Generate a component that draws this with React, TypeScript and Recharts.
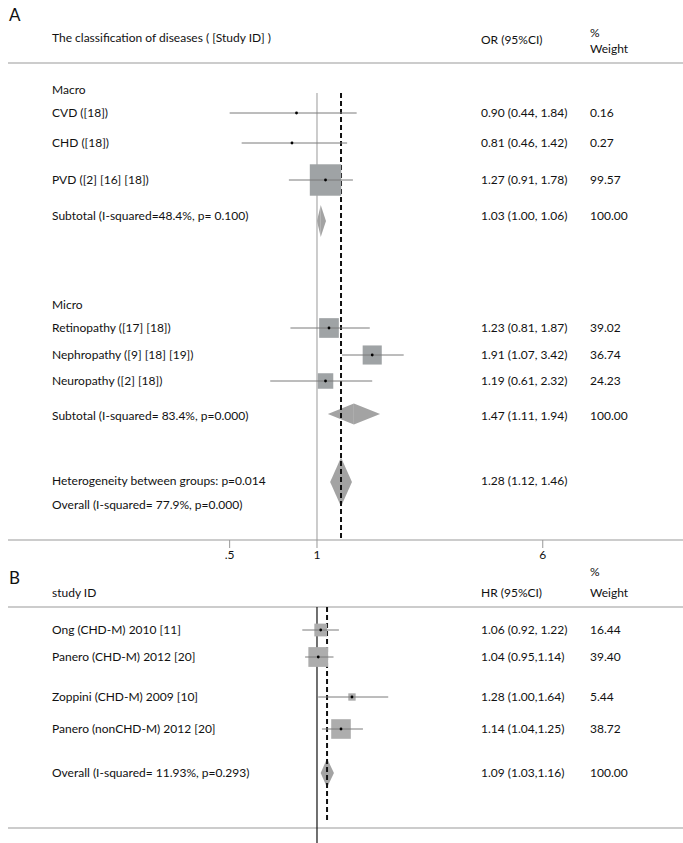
import { ReferenceArea, ReferenceLine, Scatter, ScatterChart, XAxis, YAxis } from 'recharts'

// panel A: rows of text
const labelsA = ['Macro', 'CVD ([18])', 'CHD ([18])', 'PVD ([2] [16] [18])', 'Subtotal (I-squared=48.4%, p= 0.100)', 'Micro', 'Retinopathy ([17] [18])', 'Nephropathy ([9] [18] [19])', 'Neuropathy ([2] [18])', 'Subtotal (I-squared= 83.4%, p=0.000)', 'Heterogeneity between groups: p=0.014', 'Overall (I-squared= 77.9%, p=0.000)']
const ciTextA = ['', '0.90 (0.44, 1.84)', '0.81 (0.46, 1.42)', '1.27 (0.91, 1.78)', '1.03 (1.00, 1.06)', '', '1.23 (0.81, 1.87)', '1.91 (1.07, 3.42)', '1.19 (0.61, 2.32)', '1.47 (1.11, 1.94)', '1.28 (1.12, 1.46)', '']
const weightTextA = ['', '0.16', '0.27', '99.57', '100.00', '', '39.02', '36.74', '24.23', '100.00', '', '']

// panel A: studies as drawn
const estA = [0.85, 0.82, 1.07, 1.10, 1.55, 1.07]
const lowA = [0.50, 0.55, 0.80, 0.81, 1.22, 0.69]
const highA = [1.37, 1.27, 1.33, 1.52, 1.99, 1.55]
const weightA = [0.16, 0.27, 99.57, 39.02, 36.74, 24.23]

// panel A: pooled diamonds (macro, micro, overall)
const poolLowA = [1.0, 1.09, 1.11]
const poolEstA = [1.03, 1.34, 1.21]
const poolHighA = [1.074, 1.65, 1.32]
const overallA = 1.21

// panel B
const labelsB = ['Ong (CHD-M) 2010 [11]', 'Panero (CHD-M) 2012 [20]', 'Zoppini (CHD-M) 2009 [10]', 'Panero (nonCHD-M) 2012 [20]', 'Overall (I-squared= 11.93%, p=0.293)']
const ciTextB = ['1.06 (0.92, 1.22)', '1.04 (0.95,1.14)', '1.28 (1.00,1.64)', '1.14 (1.04,1.25)', '1.09 (1.03,1.16)']
const weightTextB = ['16.44', '39.40', '5.44', '38.72', '100.00']
const estB = [1.03, 1.01, 1.32, 1.21]
const lowB = [0.89, 0.91, 1.01, 1.04]
const highB = [1.19, 1.14, 1.76, 1.44]
const weightB = [16.44, 39.4, 5.44, 38.72]
const poolLowB = 1.03
const poolEstB = 1.083
const poolHighB = 1.144

const xTicks = [0.5, 1, 6]

// layout (pixels)
const rowYA = [90, 113, 143, 180, 216, 305, 328, 355, 381, 416, 481, 505]
const studyRowA = [1, 2, 3, 6, 7, 8]
const poolYA = [221, 414, 482]
const poolHA = [32, 21, 49]
const rowYB = [630, 657, 697, 729, 773]
const poolHB = 29
const xDomain = [0.0861, 18.26]
const font = 'Lato, "Open Sans", sans-serif'
const colLabel = 52
const colCi = 481
const colWeight = 590
const ciStroke = '#7a7a7a'

const Box = (color: string) => (p: any) => {
  const s = 3.15 * Math.sqrt(p.payload.w)
  return <g>{s > 3 && <rect x={p.cx - s / 2} y={p.cy - s / 2} width={s} height={s} fill={color} />}</g>
}
const Dot = (p: any) => <circle cx={p.cx} cy={p.cy} r={1.4} fill="#000" />
const NoShape = () => <g />

const LeftHalf = (p: any) => (
  <polygon points={`${p.x},${p.y + p.height / 2} ${p.x + p.width},${p.y} ${p.x + p.width},${p.y + p.height}`} fill="#a3a3a3" />
)
const RightHalf = (p: any) => (
  <polygon points={`${p.x},${p.y} ${p.x + p.width},${p.y + p.height / 2} ${p.x},${p.y + p.height}`} fill="#a3a3a3" />
)

function Diamond(lo: number, est: number, hi: number, y: number, h: number, key: string) {
  return [
    <ReferenceArea key={key + 'l'} x1={lo} x2={est} y1={y - h / 2} y2={y + h / 2} shape={LeftHalf} ifOverflow="visible" />,
    <ReferenceArea key={key + 'r'} x1={est} x2={hi} y1={y - h / 2} y2={y + h / 2} shape={RightHalf} ifOverflow="visible" />,
  ]
}

function CiLines(low: number[], high: number[], ys: number[], key: string) {
  return low.map((lo, i) => (
    <Scatter
      key={key + i}
      data={[{ x: lo, y: ys[i] }, { x: high[i], y: ys[i] }]}
      line={{ stroke: ciStroke, strokeWidth: 1 }}
      shape={NoShape}
      isAnimationActive={false}
    />
  ))
}

function Txt({ x, y, children, size = 12 }: { x: number; y: number; children: any; size?: number }) {
  return (
    <span style={{ position: 'absolute', left: x, top: y - 8, lineHeight: '16px', fontSize: size, fontFamily: font, color: '#111', whiteSpace: 'nowrap' }}>
      {children}
    </span>
  )
}

export default function App() {
  const ysA = studyRowA.map((r) => rowYA[r])
  const dataA = estA.map((x, i) => ({ x, y: ysA[i], w: weightA[i] }))
  const dataB = estB.map((x, i) => ({ x, y: rowYB[i], w: weightB[i] }))

  return (
    <div style={{ position: 'absolute', left: 0, top: 0, width: 683, height: 843, background: '#fff' }}>
      <ScatterChart width={683} height={575} margin={{ top: 0, right: 0, left: 8, bottom: 0 }}>
        <XAxis
          dataKey="x"
          type="number"
          scale="log"
          domain={xDomain}
          allowDataOverflow
          ticks={xTicks}
          tickFormatter={(v: number) => (v === 0.5 ? '.5' : String(v))}
          height={35}
          tickSize={8}
          stroke="#999"
          tick={{ fill: '#111', fontSize: 12, fontFamily: font }}
        />
        <YAxis dataKey="y" type="number" domain={[0, 540]} reversed hide />
        <ReferenceLine y={63} stroke="#999" strokeWidth={1.2} />
        <ReferenceLine segment={[{ x: 1, y: 93 }, { x: 1, y: 540 }]} stroke="#aaa" strokeWidth={1.2} />
        {poolEstA.flatMap((e, i) => Diamond(poolLowA[i], e, poolHighA[i], poolYA[i], poolHA[i], 'pa' + i))}
        <Scatter data={dataA} shape={Box('#9fa3a5')} isAnimationActive={false} />
        {CiLines(lowA, highA, ysA, 'cia')}
        <Scatter data={dataA} shape={Dot} isAnimationActive={false} />
        <ReferenceLine segment={[{ x: overallA, y: 93 }, { x: overallA, y: 540 }]} stroke="#111" strokeWidth={2} strokeDasharray="5 3" />
      </ScatterChart>
      <ScatterChart width={683} height={268} margin={{ top: 0, right: 0, left: 8, bottom: 0 }}>
        <XAxis dataKey="x" type="number" scale="log" domain={xDomain} allowDataOverflow hide />
        <YAxis dataKey="y" type="number" domain={[575, 843]} reversed hide />
        <ReferenceLine y={607} stroke="#999" strokeWidth={1.2} />
        <ReferenceLine y={828} stroke="#999" strokeWidth={1.2} />
        {Diamond(poolLowB, poolEstB, poolHighB, rowYB[4], poolHB, 'pb')}
        <Scatter data={dataB} shape={Box('#adadad')} isAnimationActive={false} />
        {CiLines(lowB, highB, rowYB, 'cib')}
        <Scatter data={dataB} shape={Dot} isAnimationActive={false} />
        <ReferenceLine segment={[{ x: 1, y: 607 }, { x: 1, y: 843 }]} stroke="#111" strokeWidth={1.2} />
        <ReferenceLine segment={[{ x: poolEstB, y: 607 }, { x: poolEstB, y: 823 }]} stroke="#111" strokeWidth={2} strokeDasharray="5 3" />
      </ScatterChart>

      <Txt x={9} y={15} size={17}>A</Txt>
      <Txt x={colLabel} y={38}>The classification of diseases ( [Study ID] )</Txt>
      <Txt x={colCi} y={40}>OR (95%CI)</Txt>
      <Txt x={colWeight} y={33}>%</Txt>
      <Txt x={colWeight} y={49}>Weight</Txt>
      {labelsA.map((t, i) => (
        <Txt key={'la' + i} x={colLabel} y={rowYA[i]}>{t}</Txt>
      ))}
      {ciTextA.map((t, i) => t && <Txt key={'ca' + i} x={colCi} y={rowYA[i]}>{t}</Txt>)}
      {weightTextA.map((t, i) => t && <Txt key={'wa' + i} x={colWeight} y={rowYA[i]}>{t}</Txt>)}

      <Txt x={9} y={578} size={17}>B</Txt>
      <Txt x={colLabel} y={593}>study ID</Txt>
      <Txt x={colCi} y={593}>HR (95%CI)</Txt>
      <Txt x={colWeight} y={572}>%</Txt>
      <Txt x={colWeight} y={593}>Weight</Txt>
      {labelsB.map((t, i) => (
        <Txt key={'lb' + i} x={colLabel} y={rowYB[i]}>{t}</Txt>
      ))}
      {ciTextB.map((t, i) => <Txt key={'cb' + i} x={colCi} y={rowYB[i]}>{t}</Txt>)}
      {weightTextB.map((t, i) => <Txt key={'wb' + i} x={colWeight} y={rowYB[i]}>{t}</Txt>)}
    </div>
  )
}
